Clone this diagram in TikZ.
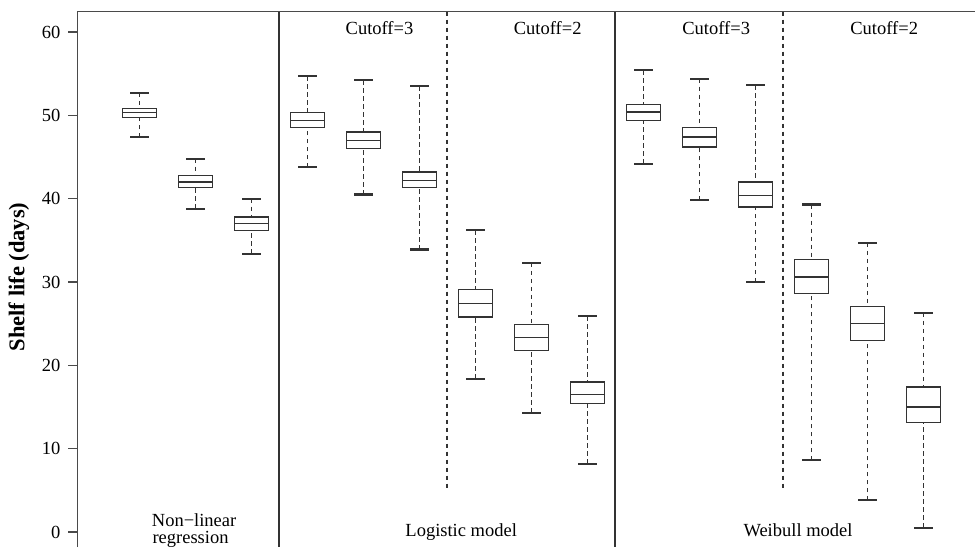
\documentclass[tikz,border=0pt]{standalone}
\usepackage{fontspec}
\setmainfont{Liberation Serif}
\definecolor{ink}{HTML}{333333}
\definecolor{frame}{HTML}{4A4A4A}
\newcommand\bxp[6]{%
  \pgfmathsetmacro\ylo{532-8.3333*#2}%
  \pgfmathsetmacro\yqa{532-8.3333*#3}%
  \pgfmathsetmacro\ymd{532-8.3333*#4}%
  \pgfmathsetmacro\yqb{532-8.3333*#5}%
  \pgfmathsetmacro\yhi{532-8.3333*#6}%
  \draw[whisk] (#1,\yhi) -- (#1,\yqb);
  \draw[whisk] (#1,\ylo) -- (#1,\yqa);
  \draw[capline] (#1-9.35,\yhi) -- (#1+9.35,\yhi);
  \draw[capline] (#1-9.35,\ylo) -- (#1+9.35,\ylo);
  \draw[boxline] (#1-16.8,\yqb) rectangle (#1+16.8,\yqa);
  \draw[boxline] (#1-16.8,\ymd) -- (#1+16.8,\ymd);
}
\begin{document}
\begin{tikzpicture}[x=1pt,y=-1pt,
  whisk/.style={ink,line width=1.3pt,dash pattern=on 4.5pt off 3.5pt},
  capline/.style={ink,line width=2.2pt},
  boxline/.style={ink,line width=1.3pt},
  framel/.style={frame,line width=1.4pt},
  sepsolid/.style={ink,line width=1.2pt},
  sepdash/.style={ink,line width=1.2pt,dash pattern=on 4.5pt off 3.5pt},
  lab/.style={font=\fontsize{18.5}{21}\selectfont,inner sep=0pt},
  tick/.style={font=\fontsize{18.5}{21}\selectfont,inner sep=0pt,anchor=east}]
\useasboundingbox (0,0) rectangle (975,547);
\fill[white] (0,0) rectangle (975,547);
% frame
\draw[framel] (77.7,547) -- (77.7,11.7) -- (975,11.7);
% ticks
\foreach \v in {0,10,...,60}{
  \pgfmathsetmacro\yt{532-8.3333*\v}
  \draw[framel] (68,\yt) -- (77.7,\yt);
  \node[tick] (t\v) at (60.5,\yt) {\v};
}
% separators
\draw[sepsolid] (279,11.7) -- (279,547);
\draw[sepsolid] (615,11.7) -- (615,547);
\draw[sepdash] (447,11.7) -- (447,491.7);
\draw[sepdash] (783,11.7) -- (783,491.7);
% y label
\node[inner sep=0pt,rotate=90,font=\fontsize{22.5}{26}\selectfont\bfseries] (ylab) at (19,277) {Shelf life (days)};
% boxes: x, lo, q1, med, q3, hi
\bxp{139.5}{47.4}{49.7}{50.3}{50.8}{52.7}
\bxp{195.5}{38.8}{41.3}{42.0}{42.8}{44.8}
\bxp{251.5}{33.4}{36.2}{37.0}{37.8}{40.0}
\bxp{307.5}{43.8}{48.5}{49.4}{50.3}{54.7}
\bxp{363.5}{40.5}{46.0}{47.0}{48.0}{54.2}
\bxp{419.5}{33.9}{41.3}{42.2}{43.2}{53.5}
\bxp{475.5}{18.4}{25.8}{27.4}{29.1}{36.2}
\bxp{531.5}{14.3}{21.8}{23.3}{24.9}{32.3}
\bxp{587.5}{8.2}{15.4}{16.5}{18.0}{25.9}
\bxp{643.5}{44.2}{49.4}{50.4}{51.3}{55.4}
\bxp{699.5}{39.8}{46.2}{47.4}{48.5}{54.4}
\bxp{755.5}{30.0}{39.0}{40.4}{42.0}{53.6}
\bxp{811.5}{8.6}{28.6}{30.6}{32.7}{39.3}
\bxp{867.5}{3.8}{23.0}{25.0}{27.1}{34.7}
\bxp{923.5}{0.5}{13.1}{15.0}{17.4}{26.3}
% labels
\node[lab,anchor=base] (c3a) at (379.5,34.3) {Cutoff=3};
\node[lab,anchor=base] (c2a) at (547.7,34.3) {Cutoff=2};
\node[lab,anchor=base] (c3b) at (716.2,34.3) {Cutoff=3};
\node[lab,anchor=base] (c2b) at (884.2,34.3) {Cutoff=2};
\node[lab,anchor=base west] (nla) at (151.7,526) {Non\textminus linear};
\node[lab,anchor=base west] (nlb) at (152.3,543.5) {regression};
\node[lab,anchor=base] (logm) at (461.2,536) {Logistic model};
\node[lab,anchor=base] (weim) at (798,536) {Weibull model};
\end{tikzpicture}
\end{document}
